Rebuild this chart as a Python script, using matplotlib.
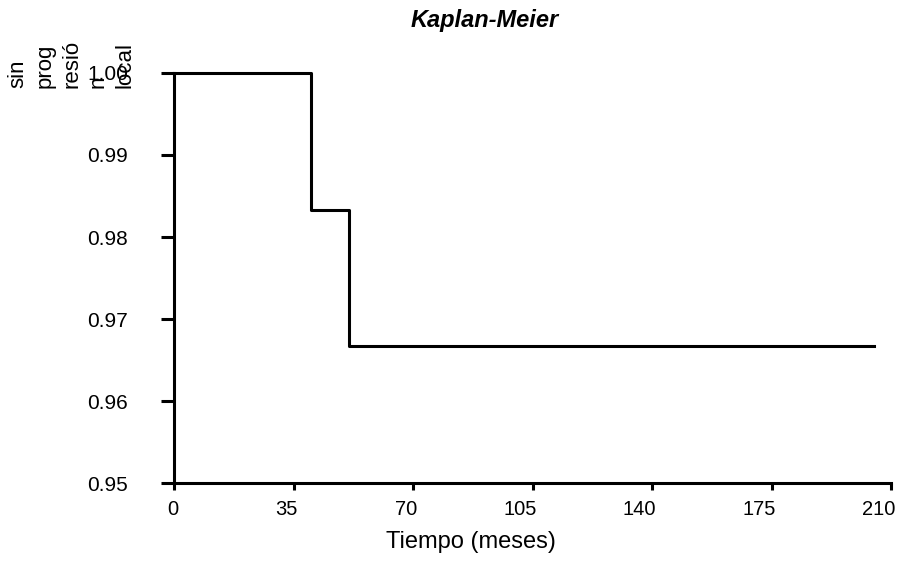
import matplotlib
matplotlib.use("Agg")
import matplotlib.pyplot as plt
import matplotlib.transforms as mtransforms

# Kaplan-Meier: tiempo (meses) vs proporción sin progresión local
tiempos = [0, 40, 51, 205]
supervivencia = [1.0, 0.9833, 0.9667, 0.9667]
x_ticks = [0, 35, 70, 105, 140, 175, 210]
y_ticks = [0.95, 0.96, 0.97, 0.98, 0.99, 1.00]
y_tick_labels = ["0.95", "0.96", "0.97", "0.98", "0.99", "1.00"]

plt.rcParams["font.family"] = ["Liberation Sans", "DejaVu Sans"]

fig = plt.figure(figsize=(8.99, 5.61), dpi=100)
ax = fig.add_axes([0.1941, 0.139, 0.797, 0.7309])

ax.step(tiempos, supervivencia, where="post", color="black", linewidth=2.2,
        clip_on=False)

ax.set_xlim(0, 210)
ax.set_ylim(0.95, 1.00)
ax.set_xticks(x_ticks)
ax.set_yticks(y_ticks)
ax.set_yticklabels(y_tick_labels)

for side in ["top", "right"]:
    ax.spines[side].set_visible(False)
for side in ["left", "bottom"]:
    ax.spines[side].set_linewidth(2.2)

ax.tick_params(axis="y", direction="out", length=9.4, width=2.2, pad=24,
               labelsize=15)
ax.tick_params(axis="x", direction="out", length=5, width=2.2, pad=7,
               labelsize=14.5)

# x tick labels sit right-aligned just past the tick
shift = mtransforms.ScaledTranslation(4 / 100, 0, fig.dpi_scale_trans)
for lab in ax.get_xticklabels():
    lab.set_horizontalalignment("right")
    lab.set_transform(lab.get_transform() + shift)

fig.text(471 / 899, 1 - 542 / 561, "Tiempo (meses)", fontsize=17,
         ha="center", va="center")
fig.text(485 / 899, 1 - 20 / 561, "Kaplan-Meier", fontsize=17,
         fontweight="bold", fontstyle="italic", ha="center", va="center")
fig.text(0.008, 1 - 88 / 561, "sin\nprog\nresió\nn\nlocal", fontsize=16,
         rotation=90, ha="left", va="bottom", multialignment="left",
         linespacing=1.37)

fig.savefig("out.png", dpi=100)
